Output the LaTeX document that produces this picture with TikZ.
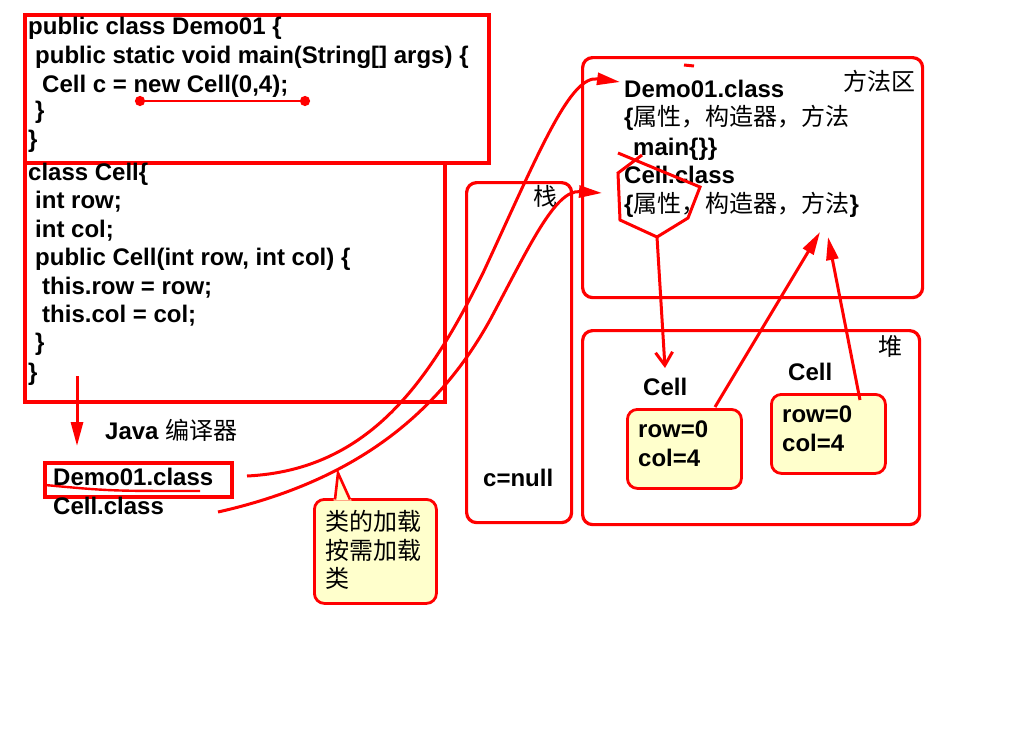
\documentclass[tikz,border=0pt]{standalone}
\usepackage{fontspec}
\setmainfont{Liberation Sans}
\newfontfamily\cjk{Noto Sans CJK SC}
\usetikzlibrary{arrows.meta}
\definecolor{rd}{HTML}{FF0000}
\definecolor{ylw}{HTML}{FFFFCC}
\tikzset{
  code/.style={anchor=base west, inner sep=0pt, font=\fontsize{24}{28}\selectfont\bfseries},
  cn/.style={anchor=base west, inner sep=0pt, font=\fontsize{24}{28}\selectfont\cjk},
  frame/.style={draw=rd, line width=3.6pt, anchor=north west, inner sep=0pt},
  rframe/.style={frame, line width=3.2pt, rounded corners=10pt},
  yframe/.style={frame, line width=2.8pt, rounded corners=10pt, fill=ylw},
  conn/.style={draw=rd, line width=3pt},
  tri/.style={-{Triangle[length=23pt,width=12pt]}},
}
\begin{document}
\begin{tikzpicture}[x=1pt,y=-1pt]
\useasboundingbox (0,0) rectangle (1024,742);

% --- source code of Demo01
\node[frame, minimum width=464pt, minimum height=148pt] (codeA) at (23,13) {};
\node[code] (a1) at (28,34) {public class Demo01 \{};
\node[code] (a2) at (35,63) {public static void main(String[] args) \{};
\node[code] (a3) at (42,92) {Cell c = new Cell(0,4);};
\node[code] (a4) at (35,118) {\}};
\node[code] (a5) at (28,147) {\}};

% --- source code of Cell
\node[frame, minimum width=420pt, minimum height=239pt] (codeB) at (23,161) {};
\node[code] (b1) at (28,180) {class Cell\{};
\node[code] (b2) at (35,208) {int row;};
\node[code] (b3) at (35,237) {int col;};
\node[code] (b4) at (35,265) {public Cell(int row, int col) \{};
\node[code] (b5) at (42,294) {this.row = row;};
\node[code] (b6) at (42,322) {this.col = col;};
\node[code] (b7) at (35,350) {\}};
\node[code] (b8) at (28,380) {\}};

% --- compiler output
\node[code] (javac) at (105,439) {Java {\cjk\mdseries 编译器}};
\node[frame, minimum width=187pt, minimum height=34pt] (dbox) at (43,461) {};
\node[code] (dclass) at (53,485) {Demo01.class};
\node[code] (cclass) at (53,514) {Cell.class};

% --- callout
\node[yframe, minimum width=122pt, minimum height=104pt] (callout) at (313,498) {};
\fill[ylw] (333.5,500.5) -- (338,473) -- (351.5,500.5) -- cycle;
\coordinate (ptip) at (338,473);
\draw[conn, line width=2.6pt] (335,499.5) -- (ptip) -- (350,499.5);
\node[cn] (ct1) at (325,530) {类的加载};
\node[cn] (ct2) at (325,559) {按需加载};
\node[cn] (ct3) at (325,587) {类};

% --- stack
\node[rframe, minimum width=105pt, minimum height=340pt] (stack) at (465,181) {};
\node[cn] (zhan) at (533,205) {栈};
\node[code] (cnull) at (483,486) {c=null};

% --- method area
\node[rframe, minimum width=340pt, minimum height=240pt] (marea) at (581,56) {};
\node[cn] (fangfa) at (843,90) {方法区};
\node[code] (md1) at (624,97) {Demo01.class};
\node[code] (md2) at (624,125) {\{{\cjk\mdseries 属性，构造器，方法}};
\node[code] (md3) at (633,155) {main\{\}\}};
\node[code] (md4) at (624,183) {Cell.class};
\node[code] (md5) at (624,212) {\{{\cjk\mdseries 属性，构造器，方法}\}};

% --- heap
\node[rframe, minimum width=337pt, minimum height=194pt] (heap) at (581,329) {};
\node[cn] (dui) at (878,355) {堆};
\node[code] (cell1) at (643,395) {Cell};
\node[yframe, minimum width=114pt, minimum height=79pt] (obj1) at (626,408) {};
\node[code] (r1) at (638,437) {row=0};
\node[code] (c1) at (638,466) {col=4};
\node[code] (cell2) at (788,380) {Cell};
\node[yframe, minimum width=114pt, minimum height=79pt] (obj2) at (770,393) {};
\node[code] (r2) at (782,422) {row=0};
\node[code] (c2) at (782,451) {col=4};

% --- marks and connectors
\coordinate (u1) at (135,101);
\coordinate (u2) at (310,101);
\draw[draw=rd, line width=2.6pt, {Circle[length=10pt]}-{Circle[length=10pt]}] (u1) -- (u2);

\coordinate (s1) at (45,485);
\coordinate (s2) at (200,491);
\draw[conn, line width=2.4pt] (s1) .. controls (110,491) .. (s2);

\coordinate (dash1) at (684,65);
\coordinate (dash2) at (694,66);
\draw[conn] (dash1) -- (dash2);

\coordinate (compS) at (77,376);
\coordinate (compE) at (77,446);
\draw[conn, -{Triangle[length=24pt,width=12pt]}] (compS) -- (compE);

\coordinate (k1s) at (247,476);
\coordinate (k1e) at (620,82);
\draw[conn, tri] (k1s) .. controls (370,470) and (430,380) .. (483,273)
  .. controls (540,150) and (570,75) .. (k1e);

\coordinate (k2s) at (218,512);
\coordinate (k2e) at (602,193);
\draw[conn, tri] (k2s) .. controls (360,480) and (440,410) .. (490,320)
  .. controls (530,245) and (555,190) .. (k2e);

\coordinate (hexb) at (657,237);
\draw[conn, line join=miter] (618,153) -- (700,187) -- (688,218) -- (hexb) -- (620,220) -- (618,173) -- (642,155);
\coordinate (cellin) at (665,368);
\draw[conn, -{Straight Barb[length=13pt,width=17pt]}] (hexb) -- (cellin);

\coordinate (o1t) at (715,407);
\coordinate (mt1) at (820,232);
\draw[conn, tri] (o1t) -- (mt1);
\coordinate (o2t) at (860,400);
\coordinate (mt2) at (828,237);
\draw[conn, tri] (o2t) -- (mt2);
\end{tikzpicture}
\end{document}
